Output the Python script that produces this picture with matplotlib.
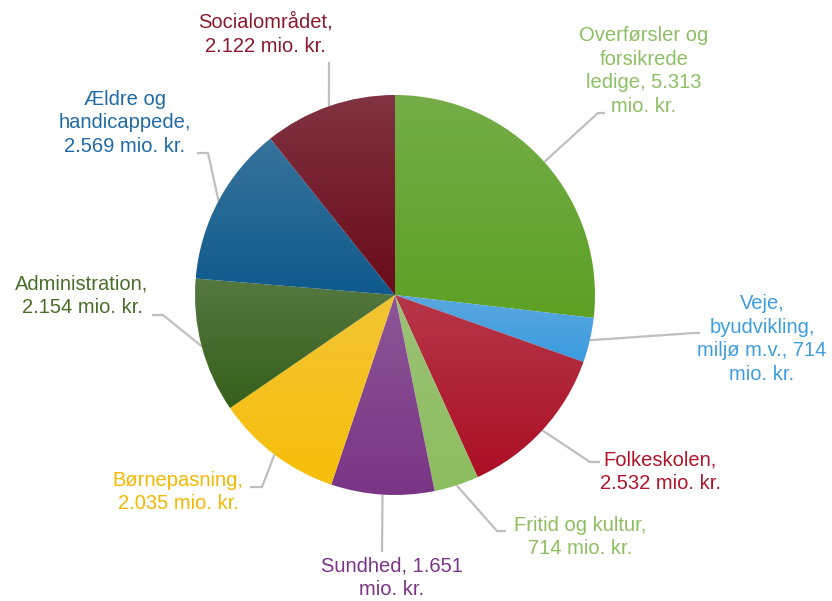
import numpy as np
import matplotlib.pyplot as plt
import matplotlib.colors as mcolors

plt.rcParams['font.family'] = ['Liberation Sans', 'DejaVu Sans']

# data (mio. kr.)
kategorier = ['Overførsler og\nforsikrede\nledige, 5.313\nmio. kr.',
              'Veje,\nbyudvikling,\nmiljø m.v., 714\nmio. kr.',
              'Folkeskolen,\n2.532 mio. kr.',
              'Fritid og kultur,\n714 mio. kr.',
              'Sundhed, 1.651\nmio. kr.',
              'Børnepasning,\n2.035 mio. kr.',
              'Administration,\n2.154 mio. kr.',
              'Ældre og\nhandicappede,\n2.569 mio. kr.',
              'Socialområdet,\n2.122 mio. kr.']
vaerdier = [5313, 714, 2532, 714, 1651, 2035, 2154, 2569, 2122]

farver = ['#5ca124', '#3a9be0', '#ac0f25', '#8cbd5e', '#7a3586',
          '#f7bf0a', '#35601a', '#0f5a8c', '#6a0a1a']
tekstfarver = ['#8dbf63', '#3c9ee0', '#b0152a', '#8dbf5f', '#7a3587',
               '#f5b800', '#4a6e2a', '#1f6aa5', '#8b1a2e']

H = 601
# label layout in pixel coords: text centre, leader elbow, leader end
tekst_pos = [(644, 71), (762, 339), (660, 472), (580, 537), (392, 578),
             (178, 492), (82, 296), (125, 123), (265, 34)]
knaek = [(598, 113), (694, 333), (590, 462), (497, 531), (382, 552),
         (262, 487), (163, 315), (208, 153), (329, 62)]
slut = [(605, 113), (700, 333), (600, 462), (506, 531), (382, 552),
        (250, 487), (152, 315), (197, 153), (329, 62)]

fig = plt.figure(figsize=(8.32, 6.01), dpi=100)
ax = fig.add_axes([0, 0, 1, 1])

cx, cy, r = 395, H - 295, 200
wedges, _ = ax.pie(vaerdier, colors=farver, startangle=90, counterclock=False,
                   center=(cx, cy), radius=r, wedgeprops=dict(linewidth=0))

# vertical gradient per slice (lighter at top)
for w, f in zip(wedges, farver):
    base = np.array(mcolors.to_rgb(f))
    top = base + (np.array([0.85, 0.85, 0.85]) - base) * 0.2
    x0, y0, x1, y1 = w.get_path().get_extents().extents
    t = np.linspace(0, 1, 64)[:, None]
    grad = top[None, :] * (1 - t) + base[None, :] * t
    img = ax.imshow(grad[:, None, :], extent=(x0, x1, y0, y1), origin='upper',
                    aspect='auto', interpolation='bilinear', zorder=2)
    img.set_clip_path(w)
    w.set_alpha(0)

for i, w in enumerate(wedges):
    ang = np.deg2rad((w.theta1 + w.theta2) / 2)
    px, py = cx + r * np.cos(ang), cy + r * np.sin(ang)
    kx, ky = knaek[i]
    sx, sy = slut[i]
    ax.plot([px, kx, sx], [py, H - ky, H - sy], color='#bfbfbf', lw=1.6,
            zorder=1, solid_capstyle='butt')
    tx, ty = tekst_pos[i]
    ax.text(tx, H - ty, kategorier[i], color=tekstfarver[i], fontsize=14.5,
            ha='center', va='center', multialignment='center', linespacing=1.32)

ax.set_xlim(0, 832)
ax.set_ylim(0, H)
ax.set_aspect('equal')
ax.axis('off')

fig.savefig('out.png', dpi=100, facecolor='white')
